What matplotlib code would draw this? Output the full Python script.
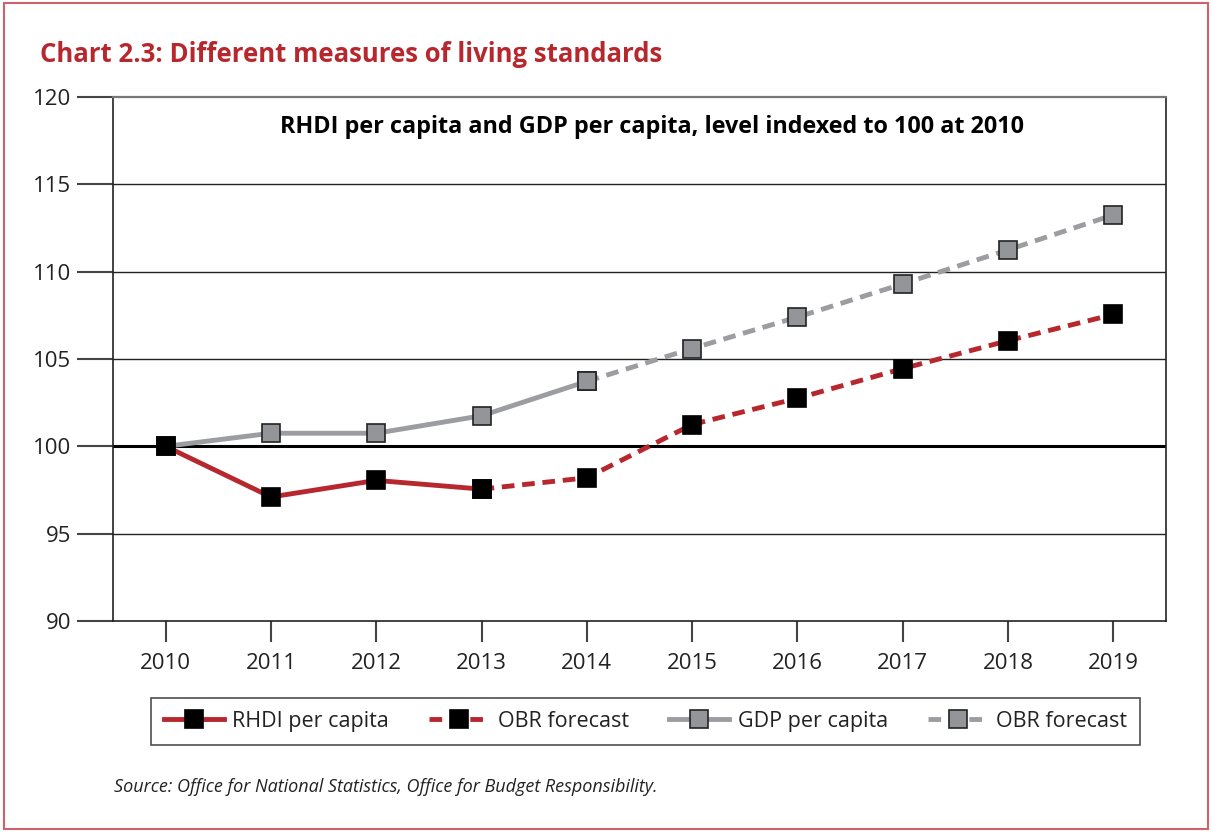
import matplotlib
matplotlib.use("Agg")
import matplotlib.pyplot as plt
from matplotlib.lines import Line2D
from matplotlib.patches import Rectangle

plt.rcParams['font.family'] = ['Open Sans', 'DejaVu Sans']

years = [2010, 2011, 2012, 2013, 2014, 2015, 2016, 2017, 2018, 2019]
rhdi = [100.0, 97.1, 98.05, 97.55, 98.2, 101.25, 102.75, 104.45, 106.05, 107.55]
gdp = [100.0, 100.75, 100.75, 101.75, 103.72, 105.6, 107.4, 109.3, 111.25, 113.25]
rhdi_last_actual = 2013
gdp_last_actual = 2014
yticks = [90, 95, 100, 105, 110, 115, 120]

RED = '#b7282e'
GREY_LINE = '#9c9da1'
GREY_MARK = '#939598'

fig = plt.figure(figsize=(12.12, 8.32), dpi=100)
fig.patches.append(Rectangle((0.003, 0.004), 0.994, 0.992, transform=fig.transFigure,
                             fill=False, edgecolor='#d0606b', linewidth=1.5))

ax = fig.add_axes([113/1212, 1-621/832, (1166-113)/1212, (621-97)/832])
ax.set_xlim(2009.5, 2019.5)
ax.set_ylim(90, 120)
ax.set_yticks(yticks)
ax.set_xticks(years)
ax.tick_params(axis='y', length=26, width=1.5, color='#444444', labelsize=16,
               labelcolor='#222222', pad=4)
ax.tick_params(axis='x', length=15, width=1.5, color='#444444', labelsize=16,
               labelcolor='#222222', pad=8)
for y in yticks[1:-1]:
    if y == 100:
        ax.axhline(y, color='black', lw=2.2, zorder=2)
    else:
        ax.axhline(y, color='#222222', lw=1.0, zorder=1)
for s in ['left', 'bottom', 'right']:
    ax.spines[s].set_color('#222222')
    ax.spines[s].set_linewidth(1.2)
ax.spines['top'].set_color('#777777')
ax.spines['top'].set_linewidth(1.6)

ia = years.index(rhdi_last_actual)
ig = years.index(gdp_last_actual)
dash = (0, (2.6, 1.6))
mk = dict(marker='s', markersize=13, markeredgewidth=1.2)

# GDP
ax.plot(years[ig:], gdp[ig:], color=GREY_LINE, lw=3.5, ls=dash, zorder=3,
        markerfacecolor=GREY_MARK, markeredgecolor='#222222', **mk)
ax.plot(years[:ig+1], gdp[:ig+1], color=GREY_LINE, lw=3.5, zorder=3,
        markerfacecolor=GREY_MARK, markeredgecolor='#222222', **mk)
# RHDI
ax.plot(years[ia:], rhdi[ia:], color=RED, lw=3.5, ls=dash, zorder=4,
        markerfacecolor='black', markeredgecolor='black', **mk)
ax.plot(years[:ia+1], rhdi[:ia+1], color=RED, lw=3.5, zorder=4,
        markerfacecolor='black', markeredgecolor='black', **mk)

fig.text(652/1212, 1-127/832, 'RHDI per capita and GDP per capita, level indexed to 100 at 2010',
         ha='center', va='center', fontsize=16.8, fontweight='bold', color='black')

fig.text(40/1212, 1-55/832, 'Chart 2.3: Different measures of living standards',
         color=RED, fontsize=18.5, fontweight='bold', ha='left', va='center')
fig.text(114/1212, 1-787/832,
         'Source: Office for National Statistics, Office for Budget Responsibility.',
         fontsize=13, style='italic', color='#222222', ha='left', va='center')

lmk = dict(marker='s', markersize=13, markeredgewidth=1.2)
handles = [
    Line2D([], [], color=RED, lw=3.5, markerfacecolor='black', markeredgecolor='black', **lmk),
    Line2D([], [], color=RED, lw=3.5, ls=dash, markerfacecolor='black', markeredgecolor='black', **lmk),
    Line2D([], [], color=GREY_LINE, lw=3.5, markerfacecolor=GREY_MARK, markeredgecolor='#222222', **lmk),
    Line2D([], [], color=GREY_LINE, lw=3.5, ls=dash, markerfacecolor=GREY_MARK, markeredgecolor='#222222', **lmk),
]
labels = ['RHDI per capita', 'OBR forecast', 'GDP per capita', 'OBR forecast']
leg = fig.legend(handles, labels, loc='center', ncol=4,
                 bbox_to_anchor=((152+1139)/2/1212, 1-721.5/832),
                 frameon=True, fancybox=False, edgecolor='#222222', fontsize=15.5,
                 handlelength=2.8, columnspacing=1.85, handletextpad=0.4,
                 borderpad=0.6, borderaxespad=0, labelcolor='#222222')
leg.get_frame().set_linewidth(1.2)

fig.savefig('out.png', dpi=100)
